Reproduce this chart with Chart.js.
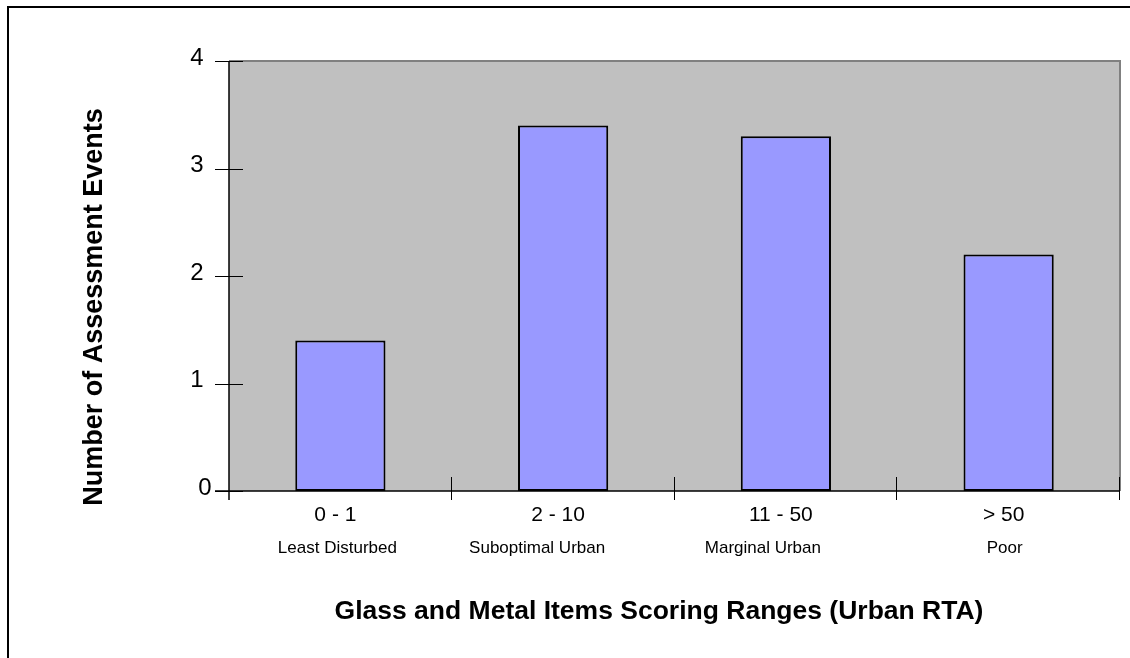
<!DOCTYPE html>
<html>
<head>
<meta charset="utf-8">
<script src="https://cdn.jsdelivr.net/npm/chart.js@4/dist/chart.umd.min.js"></script>
<style>
  html, body { margin: 0; padding: 0; background: #fff; }
  canvas { display: block; }
</style>
</head>
<body>
<canvas id="chart" width="1130" height="658"></canvas>
<script>
const categories = ['0 - 1', '2 - 10', '11 - 50', '> 50'];
const subLabels = ['Least Disturbed', 'Suboptimal Urban', 'Marginal Urban', 'Poor'];
const eventCounts = [1.4, 3.4, 3.3, 2.2];
const yTicks = [0, 1, 2, 3, 4];

const xTitle = 'Glass and Metal Items Scoring Ranges (Urban RTA)';
const yTitle = 'Number of Assessment Events';
const font = '"Liberation Sans", Arial, sans-serif';

// small nudges, the sub labels are not centred under the bars
const subShift = [-3, -26, -23, -4];

// draws the gray plot box, the axes, ticks and all the text
const excelLook = {
  id: 'excelLook',
  beforeDatasetsDraw(chart) {
    const { ctx, chartArea: a } = chart;
    ctx.save();
    ctx.fillStyle = '#c0c0c0';
    ctx.fillRect(a.left, a.top, a.right - a.left, a.bottom - a.top);
    ctx.restore();
  },
  afterDraw(chart) {
    const { ctx, chartArea: a } = chart;
    const x = chart.scales.x;
    const y = chart.scales.y;
    ctx.save();

    // outer frame (only top and left show)
    ctx.strokeStyle = '#000';
    ctx.lineWidth = 2;
    ctx.beginPath();
    ctx.moveTo(8, 658);
    ctx.lineTo(8, 7);
    ctx.lineTo(1130, 7);
    ctx.stroke();

    // gray top / right edge of plot box
    ctx.strokeStyle = '#808080';
    ctx.lineWidth = 2;
    ctx.beginPath();
    ctx.moveTo(a.left, a.top);
    ctx.lineTo(a.right, a.top);
    ctx.lineTo(a.right, a.bottom);
    ctx.stroke();

    // axes
    ctx.strokeStyle = '#000';
    ctx.lineWidth = 1.5;
    ctx.beginPath();
    ctx.moveTo(a.left, a.top);
    ctx.lineTo(a.left, a.bottom + 9);
    ctx.moveTo(a.left - 14, a.bottom);
    ctx.lineTo(a.right, a.bottom);
    ctx.stroke();

    // y ticks crossing the axis
    ctx.lineWidth = 1;
    yTicks.forEach(v => {
      const py = Math.round(y.getPixelForValue(v)) + 0.5;
      ctx.beginPath();
      ctx.moveTo(a.left - 14, py);
      ctx.lineTo(a.left + 14, py);
      ctx.stroke();
    });

    // category boundary ticks
    const step = (a.right - a.left) / categories.length;
    for (let i = 1; i <= categories.length; i++) {
      const px = Math.round(a.left + step * i) - 0.5;
      ctx.beginPath();
      ctx.moveTo(px, a.bottom - 14);
      ctx.lineTo(px, a.bottom + 9);
      ctx.stroke();
    }

    // y tick labels
    ctx.fillStyle = '#000';
    ctx.font = '24px ' + font;
    ctx.textAlign = 'center';
    ctx.textBaseline = 'middle';
    yTicks.forEach(v => {
      const py = y.getPixelForValue(v) - 3;
      ctx.fillText(String(v), v === 0 ? 205 : 197, py);
    });

    // category labels
    categories.forEach((c, i) => {
      const cx = x.getPixelForValue(i);
      ctx.font = '21px ' + font;
      ctx.fillText(c, cx - 5, 515);
      ctx.font = '17px ' + font;
      ctx.fillText(subLabels[i], cx + subShift[i], 548);
    });

    // axis titles
    ctx.font = 'bold 26.5px ' + font;
    ctx.fillText(xTitle, 659, 612);
    ctx.font = 'bold 27px ' + font;
    ctx.translate(95, 307);
    ctx.rotate(-Math.PI / 2);
    ctx.fillText(yTitle, 0, 0);

    ctx.restore();
  }
};

const chartData = {
  labels: categories,
  datasets: [
    {
      label: 'Assessment Events',
      data: eventCounts,
      backgroundColor: '#9999ff',
      borderColor: '#000',
      borderWidth: 2,
      borderSkipped: false,
      categoryPercentage: 1,
      barPercentage: 0.405,
    },
  ],
};

const chartConfig = {
  type: 'bar',
  data: chartData,
  options: {
    responsive: false,
    animation: false,
    layout: { padding: { left: 0, top: 61, right: 10, bottom: 0 } },
    plugins: { legend: { display: false }, tooltip: { enabled: false } },
    scales: {
      x: {
        grid: { display: false },
        border: { display: false },
        ticks: { display: false },
        afterFit: s => { s.height = 167; },
      },
      y: {
        min: 0,
        max: 4,
        grid: { display: false },
        border: { display: false },
        ticks: { display: false, stepSize: 1 },
        afterFit: s => { s.width = 229; },
      },
    },
  },
  plugins: [excelLook],
};

const myChart = new Chart(document.getElementById('chart'), chartConfig);
</script>
</body>
</html>
